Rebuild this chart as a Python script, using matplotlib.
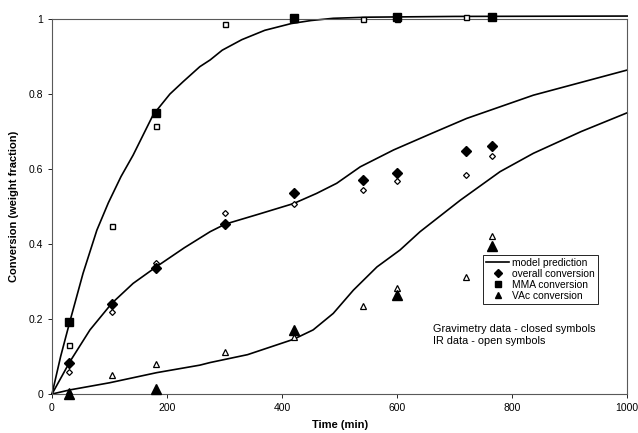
import numpy as np
import matplotlib
matplotlib.use('Agg')
import matplotlib.pyplot as plt
from matplotlib.lines import Line2D
from matplotlib.ticker import FuncFormatter

plt.rcParams['font.family'] = ['Liberation Sans', 'DejaVu Sans']

# sampling times (min)
t_all = [30, 105, 180, 300, 420, 540, 600, 720, 765]
t_grav = [30, 180, 420, 600, 765]

# gravimetry (closed symbols)
mma_grav = [0.193, 0.75, 1.004, 1.005, 1.005]
vac_grav = [0.0, 0.014, 0.172, 0.264, 0.396]
overall_grav = [0.084, 0.241, 0.336, 0.454, 0.535, 0.570, 0.590, 0.649, 0.662]

# IR (open symbols)
mma_ir = [0.130, 0.448, 0.715, 0.986, 0.999, 1.000, 1.000, 1.005, 1.005]
vac_ir = [0.009, 0.052, 0.081, 0.112, 0.153, 0.235, 0.282, 0.311, 0.422]
overall_ir = [0.060, 0.219, 0.350, 0.482, 0.507, 0.545, 0.567, 0.584, 0.636]

# model prediction curves
t_mma_mod = [0, 15, 31, 54, 78, 98, 120, 141, 176, 205, 228, 257, 275, 296,
             330, 370, 416, 450, 489, 550, 700, 1000]
mma_mod = [0, 0.10, 0.193, 0.322, 0.437, 0.51, 0.58, 0.637, 0.745, 0.80, 0.833,
           0.873, 0.891, 0.917, 0.945, 0.970, 0.988, 0.996, 1.002, 1.005, 1.007, 1.008]
t_all_mod = [0, 31, 66, 104, 141, 182, 230, 275, 301, 360, 420, 460, 495, 536,
             594, 660, 721, 837, 1000]
overall_mod = [0, 0.086, 0.171, 0.242, 0.295, 0.34, 0.39, 0.433, 0.453, 0.48,
               0.508, 0.535, 0.562, 0.606, 0.651, 0.695, 0.735, 0.797, 0.864]
t_vac_mod = [0, 31, 100, 182, 257, 275, 340, 420, 454, 489, 524, 565, 605, 640,
             710, 779, 837, 920, 1000]
vac_mod = [0, 0.011, 0.03, 0.057, 0.077, 0.084, 0.105, 0.146, 0.171, 0.215,
           0.277, 0.339, 0.384, 0.433, 0.517, 0.593, 0.642, 0.70, 0.750]

fig = plt.figure(figsize=(6.38, 4.33), dpi=100)
ax = fig.add_axes([0.0815, 0.090, 0.9015, 0.866])

for tt, yy in [(t_mma_mod, mma_mod), (t_all_mod, overall_mod), (t_vac_mod, vac_mod)]:
    ax.plot(tt, yy, '-', color='black', lw=1.2, clip_on=False, zorder=2,
            solid_joinstyle='round')

# open symbols (IR)
ax.plot(t_all, mma_ir, 's', ms=3.6, mfc='white', mec='black', mew=1.0, clip_on=False, zorder=3)
ax.plot(t_all, overall_ir, 'D', ms=3.0, mfc='white', mec='black', mew=0.9, clip_on=False, zorder=3)
ax.plot(t_all, vac_ir, '^', ms=3.8, mfc='white', mec='black', mew=0.9, clip_on=False, zorder=3)

# closed symbols (gravimetry)
ax.plot(t_grav, mma_grav, 's', ms=5.5, color='black', clip_on=False, zorder=4)
ax.plot(t_all, overall_grav, 'D', ms=5.0, color='black', clip_on=False, zorder=4)
ax.plot(t_grav, vac_grav, '^', ms=6.5, color='black', clip_on=False, zorder=4)

ax.set_xlim(0, 1000)
ax.set_ylim(0, 1)
ax.set_xticks([0, 200, 400, 600, 800, 1000])
ax.set_yticks([0, 0.2, 0.4, 0.6, 0.8, 1.0])
ax.yaxis.set_major_formatter(FuncFormatter(lambda v, p: '%g' % v))
ax.tick_params(direction='out', length=3, width=0.6, labelsize=7.5, colors='black')
for s in ax.spines.values():
    s.set_linewidth(0.8)
    s.set_color('0.35')

ax.set_xlabel('Time (min)', fontsize=8, fontweight='bold', labelpad=5)
ax.set_ylabel('Conversion (weight fraction)', fontsize=8, fontweight='bold', labelpad=7)

handles = [
    Line2D([], [], color='black', lw=1.2),
    Line2D([], [], marker='D', ls='none', color='black', ms=4),
    Line2D([], [], marker='s', ls='none', color='black', ms=4.5),
    Line2D([], [], marker='^', ls='none', color='black', ms=5),
]
labels = ['model prediction', 'overall conversion', 'MMA conversion', 'VAc conversion']
leg = ax.legend(handles, labels, loc='upper left', bbox_to_anchor=(0.75, 0.372),
                fontsize=7.4, frameon=True, fancybox=False, framealpha=1,
                edgecolor='black', handlelength=2.2, handletextpad=0.3,
                labelspacing=0.1, borderpad=0.3, borderaxespad=0)
leg.get_frame().set_linewidth(0.6)

ax.text(0.663, 0.157, 'Gravimetry data - closed symbols\nIR data - open symbols',
        transform=ax.transAxes, fontsize=7.8, va='center', ha='left', linespacing=1.3)

fig.savefig('out.png', dpi=100)
